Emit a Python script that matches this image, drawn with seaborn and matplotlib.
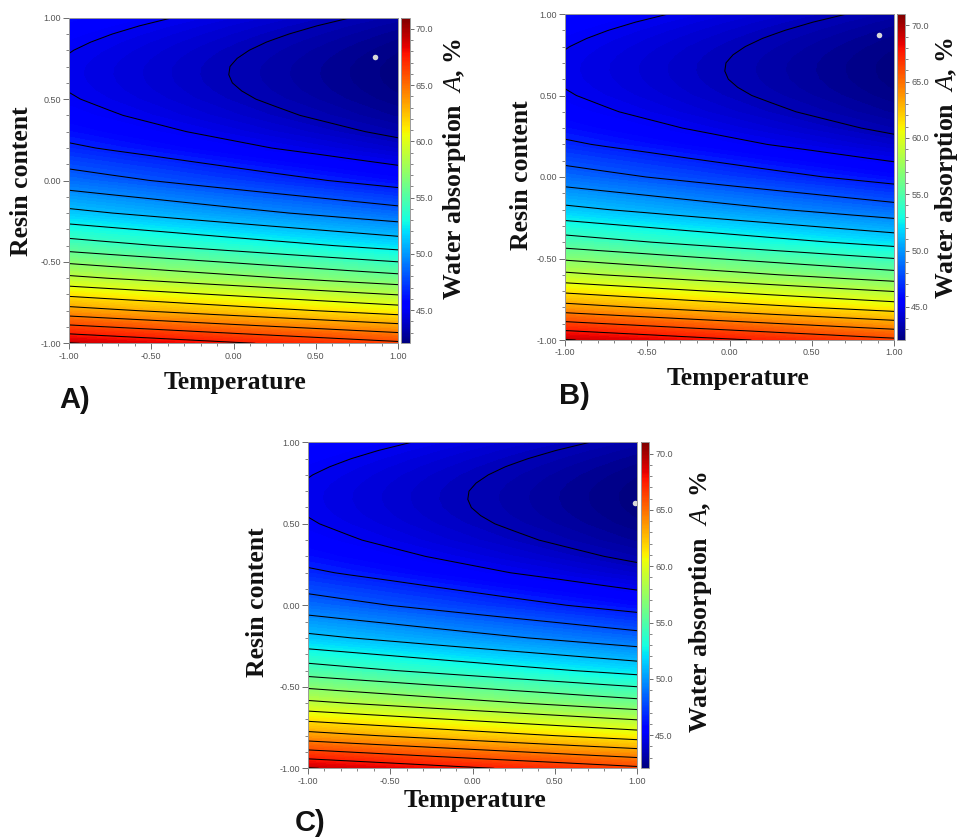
import numpy as np
import matplotlib
matplotlib.use("Agg")
import matplotlib.pyplot as plt
import matplotlib.colors as mcolors
from matplotlib.cm import ScalarMappable
from matplotlib.ticker import MultipleLocator, FormatStrFormatter
import seaborn as sns

# coded factor levels: x = Temperature, y = Resin content
temperature = [-1.0, -0.75, -0.5, -0.25, 0.0, 0.25, 0.5, 0.75, 1.0]
resin = [-1.0, -0.8, -0.6, -0.4, -0.2, 0.0, 0.2, 0.3, 0.4, 0.5, 0.55,
         0.6, 0.65, 0.7, 0.75, 0.8, 0.85, 0.9, 0.95, 1.0]

# water absorption A, % (one row per resin level,
# columns follow the temperature levels); the three maps look the same
absorption = [
    [69.09, 68.74, 68.39, 68.03, 67.68, 67.34, 67.00, 66.65, 66.31],
    [63.61, 63.25, 62.90, 62.55, 62.20, 61.85, 61.51, 61.17, 60.83],
    [58.83, 58.47, 58.12, 57.76, 57.42, 57.07, 56.73, 56.38, 56.05],
    [54.75, 54.39, 54.04, 53.69, 53.34, 52.99, 52.65, 52.31, 51.97],
    [51.37, 51.02, 50.67, 50.31, 49.96, 49.62, 49.28, 48.93, 48.59],
    [48.70, 48.34, 47.99, 47.64, 47.29, 46.94, 46.60, 46.26, 45.92],
    [46.73, 46.37, 46.03, 45.67, 45.32, 44.97, 44.64, 44.29, 43.95],
    [46.01, 45.65, 45.30, 44.95, 44.60, 44.25, 43.91, 43.57, 43.23],
    [45.46, 45.11, 44.76, 44.40, 44.05, 43.71, 43.37, 43.02, 42.68],
    [45.10, 44.74, 44.39, 44.03, 43.69, 43.34, 43.00, 42.65, 42.32],
    [44.98, 44.62, 44.27, 43.92, 43.57, 43.22, 42.88, 42.54, 42.20],
    [44.90, 44.55, 44.20, 43.84, 43.49, 43.15, 42.81, 42.46, 42.12],
    [44.87, 44.52, 44.17, 43.81, 43.46, 43.12, 42.78, 42.43, 42.09],
    [44.88, 44.53, 44.18, 43.82, 43.47, 43.13, 42.79, 42.44, 42.10],
    [44.94, 44.59, 44.24, 43.88, 43.53, 43.19, 42.85, 42.50, 42.16],
    [45.04, 44.69, 44.34, 43.98, 43.63, 43.29, 42.95, 42.60, 42.26],
    [45.19, 44.83, 44.48, 44.13, 43.78, 43.43, 43.09, 42.75, 42.41],
    [45.38, 45.02, 44.67, 44.32, 43.97, 43.62, 43.28, 42.94, 42.60],
    [45.61, 45.25, 44.90, 44.55, 44.20, 43.85, 43.51, 43.17, 42.83],
    [45.89, 45.53, 45.18, 44.83, 44.48, 44.13, 43.79, 43.45, 43.11],
]

# the small white point on each map
point_temp = [0.86, 0.91, 0.99]
point_resin = [0.76, 0.87, 0.63]

panel_tags = ["A)", "B)", "C)"]
axis_ticks = [-1.0, -0.5, 0.0, 0.5, 1.0]
cbar_ticks = [45.0, 50.0, 55.0, 60.0, 65.0, 70.0]
cbar_low, cbar_high = 42.06, 71.0
line_first, line_step = 43.5, 1.5

sns.set_style("ticks")
plt.rcParams["font.family"] = ["Liberation Sans Narrow", "Liberation Sans", "DejaVu Sans"]
plt.rcParams["axes.unicode_minus"] = False
plt.rcParams["mathtext.fontset"] = "custom"
plt.rcParams["mathtext.rm"] = "Liberation Serif"
plt.rcParams["mathtext.it"] = "Liberation Serif:italic"

W, H = 959, 839
fig = plt.figure(figsize=(W / 100, H / 100), dpi=100)


def rect(x0, y0, x1, y1):
    return [x0 / W, 1 - y1 / H, (x1 - x0) / W, (y1 - y0) / H]


def put(x, y, s, **kw):
    fig.text(x / W, 1 - y / H, s, ha="center", va="center", **kw)


# pixel layout of each panel
layout = [
    dict(ax=(69, 17.7, 398, 343.3), cb=(401, 409.5), ylab=(22, 181),
         xlab=(235, 383), cblab=(454, 169), tag=(75, 400)),
    dict(ax=(565, 14, 894, 340), cb=(897, 905), ylab=(522, 175),
         xlab=(738, 378), cblab=(946, 168), tag=(574, 396)),
    dict(ax=(308, 442.3, 637, 768.3), cb=(641, 649), ylab=(258, 602),
         xlab=(475, 801), cblab=(700, 602), tag=(310, 823)),
]

cmap = matplotlib.colormaps["jet"]
T, R = np.meshgrid(temperature, resin)
Z = np.array(absorption)
fill_levels = np.arange(42.0, 71.25, 0.25)
line_levels = np.arange(line_first, 70.0, line_step)

serif = dict(family="Liberation Serif", weight="bold", size=18.5, color="#111111")
tick_grey = "#555555"

for i, lay in enumerate(layout):
    norm = mcolors.Normalize(cbar_low, cbar_high)
    x0, y0, x1, y1 = lay["ax"]
    ax = fig.add_axes(rect(x0, y0, x1, y1))
    cs = ax.contourf(T, R, Z, levels=fill_levels, cmap=cmap, norm=norm)
    cs.set_edgecolor("face")
    cs.set_linewidth(0.3)
    ax.contour(T, R, Z, levels=line_levels, colors="black", linewidths=0.75)
    ax.plot(point_temp[i], point_resin[i], "o", color="#d8d8d8", ms=4, mec="none")

    ax.set_xlim(-1, 1)
    ax.set_ylim(-1, 1)
    ax.set_xticks(axis_ticks)
    ax.set_yticks(axis_ticks)
    ax.xaxis.set_minor_locator(MultipleLocator(0.1))
    ax.yaxis.set_minor_locator(MultipleLocator(0.1))
    ax.xaxis.set_major_formatter(FormatStrFormatter("%.2f"))
    ax.yaxis.set_major_formatter(FormatStrFormatter("%.2f"))
    ax.tick_params(which="major", direction="out", length=4, width=0.6,
                   color=tick_grey, labelsize=6.5, labelcolor=tick_grey, pad=2)
    ax.tick_params(which="minor", direction="out", length=2.5, width=0.5, color=tick_grey)
    for sp in ax.spines.values():
        sp.set_color("#999999")
        sp.set_linewidth(0.7)

    cax = fig.add_axes(rect(lay["cb"][0], y0, lay["cb"][1], y1))
    cb = fig.colorbar(ScalarMappable(norm=mcolors.Normalize(cbar_low, cbar_high), cmap=cmap),
                      cax=cax)
    cb.set_ticks(cbar_ticks, labels=[f"{t:.1f}" for t in cbar_ticks])
    cb.set_ticks(np.arange(43.0, 71.0, 1.0), minor=True)
    cb.ax.tick_params(which="major", direction="out", length=3, width=0.6,
                      color=tick_grey, labelsize=6.5, labelcolor=tick_grey, pad=1.5)
    cb.ax.tick_params(which="minor", direction="out", length=2, width=0.5, color=tick_grey)
    cb.outline.set_edgecolor("#999999")
    cb.outline.set_linewidth(0.7)

    put(*lay["ylab"], "Resin content", rotation=90, **serif)
    put(*lay["xlab"], "Temperature", **serif)
    put(*lay["cblab"], "Water absorption  $\\mathit{A}$, %", rotation=90, **serif)
    put(*lay["tag"], panel_tags[i], family="Liberation Sans", weight="bold",
        size=21, color="#111111")

fig.savefig("out.png", dpi=100)
